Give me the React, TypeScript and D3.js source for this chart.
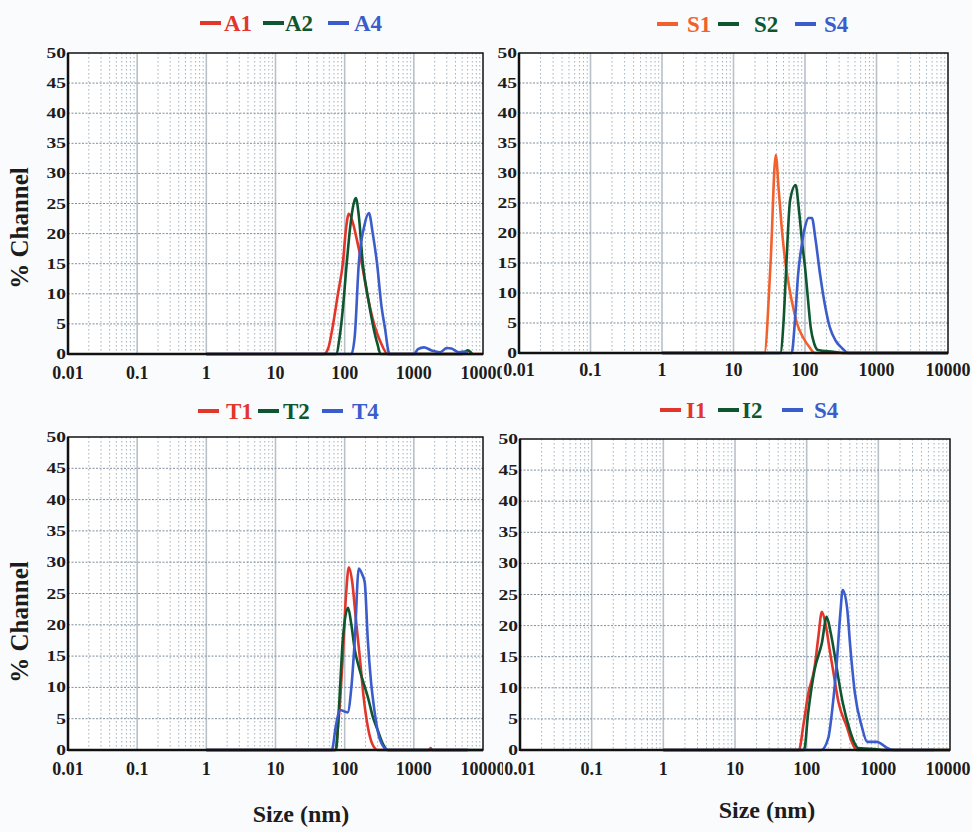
import React from "react";
import * as d3 from "d3";

// x ticks (size, nm) and y ticks (% channel)
const SIZE_TICKS = [0.01, 0.1, 1, 10, 100, 1000, 10000];
const SIZE_LABELS = ["0.01", "0.1", "1", "10", "100", "1000", "10000"];
const CHANNEL_TICKS = [0, 5, 10, 15, 20, 25, 30, 35, 40, 45, 50];

type Pt = [number, number]; // [size nm, % channel]

// panel A
const A1: Pt[] = [[1, 0], [50, 0], [58, 1], [67, 4.5], [80, 10], [94, 15], [105, 21], [115, 23.3], [130, 22], [150, 19], [177, 15], [220, 9], [274, 4.5], [330, 2], [420, 0], [10000, 0]];
const A2: Pt[] = [[1, 0], [75, 0], [85, 3], [95, 8], [107, 15], [120, 21], [135, 25], [145, 25.9], [160, 23], [183, 15], [220, 9], [265, 4], [300, 1.5], [330, 0], [5000, 0], [6000, 0.6], [7000, 0]];
const A4: Pt[] = [[1, 0], [125, 0], [140, 3], [160, 15], [190, 21], [224, 23.4], [255, 20], [294, 15], [340, 8], [380, 4.5], [445, 0], [1000, 0], [1150, 0.8], [1400, 1.1], [1800, 0.6], [2400, 0.3], [3000, 1.0], [3500, 0.9], [4500, 0.3], [5500, 0.4], [6000, 0]];

// panel S
const S1: Pt[] = [[1, 0], [27, 0], [33, 15], [39, 33], [43, 27], [48, 20], [52, 16], [60, 11], [70, 7], [77, 5], [95, 2.5], [115, 1], [138, 0], [10000, 0]];
const S2: Pt[] = [[1, 0], [45, 0], [50, 5], [54, 13], [62, 25.5], [74, 28], [82, 24], [92, 18], [100, 14.3], [110, 9], [120, 4.3], [135, 1.5], [152, 0.5], [250, 0.2], [340, 0], [10000, 0]];
const S4: Pt[] = [[1, 0], [65, 0], [72, 5], [80, 13], [90, 18], [100, 21], [112, 22.5], [125, 22.5], [140, 19], [163, 13], [190, 8], [222, 4.3], [270, 2], [330, 0.8], [400, 0], [10000, 0]];

// panel T
const T1: Pt[] = [[1, 0], [72, 0], [82, 5], [94, 15], [105, 25], [115, 29.2], [128, 27], [145, 21], [165, 15], [190, 8], [216, 3.7], [250, 1], [300, 0], [1650, 0], [1750, 0.3], [1850, 0], [6000, 0]];
const T2: Pt[] = [[1, 0], [75, 0], [82, 6], [94, 17.6], [112, 22.7], [125, 20], [140, 16], [160, 13.3], [190, 10.5], [216, 8.5], [260, 5], [300, 3.2], [350, 1.2], [420, 0], [10000, 0]];
const T4: Pt[] = [[1, 0], [65, 0], [75, 4], [85, 6.4], [110, 6], [125, 10], [140, 17.6], [160, 29], [180, 28], [195, 26.8], [216, 17.6], [240, 11], [265, 6.9], [325, 1.6], [420, 0], [6000, 0]];

// panel I
const I1: Pt[] = [[1, 0], [78, 0], [90, 4], [105, 9], [129, 13.3], [145, 18], [163, 22.2], [185, 20], [210, 16], [233, 12.9], [280, 7.5], [365, 3.7], [420, 1.5], [500, 0], [10000, 0]];
const I2: Pt[] = [[1, 0], [92, 0], [105, 6], [129, 12.9], [163, 17.2], [190, 21.4], [215, 19], [240, 16], [265, 12.9], [320, 7.5], [400, 3.2], [470, 1], [520, 0.3], [800, 0.2], [1150, 0], [10000, 0]];
const IS4: Pt[] = [[1, 0], [160, 0], [200, 1.9], [230, 7], [265, 14.5], [295, 22], [318, 25.7], [365, 23], [410, 16], [470, 9.2], [590, 3.7], [700, 1.3], [950, 1.3], [1100, 1.0], [1300, 0.4], [1600, 0], [6000, 0]];

const RED = "#e2362b";
const ORANGE = "#f2602e";
const GREEN = "#0f5630";
const BLUE = "#3b5ccb";

const SERIF = "'Liberation Serif', 'DejaVu Serif', serif";
const W = 972;
const H = 832;

interface Series { name: string; color: string; data: Pt[]; }
interface PanelCfg {
  series: Series[];
  left: number; right: number; top: number; bottom: number;
  labelY: number;
  legendY: number;
  dashX: number[];
  textX: number[];
  clipRight: number;
  yTitle?: number;
  xTitle?: [number, number];
}

const PANELS: PanelCfg[] = [
  {
    series: [{ name: "A1", color: RED, data: A1 }, { name: "A2", color: GREEN, data: A2 }, { name: "A4", color: BLUE, data: A4 }],
    left: 68, right: 483, top: 53, bottom: 354, labelY: 379, legendY: 31,
    dashX: [200, 263, 328], textX: [224, 285, 354], yTitle: 228, clipRight: 502,
  },
  {
    series: [{ name: "S1", color: ORANGE, data: S1 }, { name: "S2", color: GREEN, data: S2 }, { name: "S4", color: BLUE, data: S4 }],
    left: 519, right: 948, top: 53, bottom: 353, labelY: 376, legendY: 32,
    dashX: [657, 718, 795], textX: [687, 754, 824], clipRight: W,
  },
  {
    series: [{ name: "T1", color: RED, data: T1 }, { name: "T2", color: GREEN, data: T2 }, { name: "T4", color: BLUE, data: T4 }],
    left: 68, right: 483, top: 437, bottom: 750, labelY: 775, legendY: 419,
    dashX: [198, 258, 322], textX: [226, 283, 352], yTitle: 622, xTitle: [301, 822], clipRight: 503,
  },
  {
    series: [{ name: "I1", color: RED, data: I1 }, { name: "I2", color: GREEN, data: I2 }, { name: "S4", color: BLUE, data: IS4 }],
    left: 520, right: 950, top: 439, bottom: 750, labelY: 775, legendY: 418,
    dashX: [660, 718, 782], textX: [686, 742, 814], xTitle: [767, 818], clipRight: W,
  },
];

const MINOR: number[] = [];
for (let d = -2; d < 4; d++) for (let k = 2; k <= 9; k++) MINOR.push(k * Math.pow(10, d));

function Panel({ cfg, id }: { cfg: PanelCfg; id: string }) {
  const x = d3.scaleLog().domain([0.01, 10000]).range([cfg.left, cfg.right]);
  const y = d3.scaleLinear().domain([0, 50]).range([cfg.bottom, cfg.top]);
  const line = d3.line<Pt>().x((d) => x(d[0])).y((d) => y(d[1])).curve(d3.curveMonotoneX);

  return (
    <g>
      <clipPath id={id}>
        <rect x={0} y={0} width={cfg.clipRight} height={H} />
      </clipPath>
      <rect x={cfg.left} y={cfg.top} width={cfg.right - cfg.left} height={cfg.bottom - cfg.top} fill="#fff" />
      {/* minor verticals */}
      {MINOR.map((m) => (
        <line key={"m" + m} x1={x(m)} x2={x(m)} y1={cfg.top} y2={cfg.bottom} stroke="#9db2c4" strokeWidth={1} strokeDasharray="1.5,2.5" />
      ))}
      {/* major verticals */}
      {SIZE_TICKS.slice(1, -1).map((t) => (
        <line key={"M" + t} x1={x(t)} x2={x(t)} y1={cfg.top} y2={cfg.bottom} stroke="#b8c0c8" strokeWidth={1.6} />
      ))}
      {/* horizontals */}
      {CHANNEL_TICKS.slice(1, -1).map((t) => (
        <line key={"h" + t} x1={cfg.left} x2={cfg.right} y1={y(t)} y2={y(t)} stroke="#7f8e9c" strokeWidth={1} strokeDasharray="2,1.5" />
      ))}
      {/* series */}
      {cfg.series.map((s) => (
        <path key={s.name} d={line(s.data) || ""} fill="none" stroke={s.color} strokeWidth={2.6} strokeLinejoin="round" />
      ))}
      {/* frame */}
      <rect x={cfg.left} y={cfg.top} width={cfg.right - cfg.left} height={cfg.bottom - cfg.top} fill="none" stroke="#111" strokeWidth={1.5} />
      <line x1={cfg.left} x2={cfg.left} y1={cfg.top} y2={cfg.bottom + 1} stroke="#111" strokeWidth={2.5} />
      <line x1={cfg.left} x2={cfg.right} y1={cfg.bottom} y2={cfg.bottom} stroke="#111" strokeWidth={2.5} />
      {/* y tick labels */}
      {CHANNEL_TICKS.map((t) => (
        <text key={"yl" + t} transform={`translate(${cfg.left - 2},${y(t) + 5}) scale(1.3,1)`} textAnchor="end"
          fontFamily={SERIF} fontWeight="bold" fontSize={15} fill="#1c1c1c">{t}</text>
      ))}
      {/* x tick labels */}
      <g clipPath={`url(#${id})`}>
        {SIZE_TICKS.map((t, i) => (
          <text key={"xl" + t} x={Math.min(x(t), W - 24)} y={cfg.labelY} textAnchor="middle" fontFamily={SERIF} fontWeight="bold"
            fontSize={18} fill="#1c1c1c">{SIZE_LABELS[i]}</text>
        ))}
      </g>
      {/* legend */}
      {cfg.series.map((s, i) => (
        <g key={"lg" + s.name}>
          <rect x={cfg.dashX[i]} y={cfg.legendY - 10} width={21} height={4} fill={s.color} />
          <text x={cfg.textX[i]} y={cfg.legendY} fontFamily={SERIF} fontWeight="bold" fontSize={23} fill={s.color}>{s.name}</text>
        </g>
      ))}
      {cfg.yTitle !== undefined && (
        <text transform={`translate(28,${cfg.yTitle}) rotate(-90)`} textAnchor="middle" fontFamily={SERIF}
          fontWeight="bold" fontSize={25} fill="#1c1c1c">% Channel</text>
      )}
      {cfg.xTitle && (
        <text x={cfg.xTitle[0]} y={cfg.xTitle[1]} textAnchor="middle" fontFamily={SERIF} fontWeight="bold"
          fontSize={24} fill="#1c1c1c">Size (nm)</text>
      )}
    </g>
  );
}

export default function App() {
  return (
    <svg width={W} height={H} style={{ position: "absolute", left: 0, top: 0, display: "block", background: "#fafbfd" }}>
      {PANELS.map((p, i) => <Panel key={i} cfg={p} id={"clip" + i} />)}
    </svg>
  );
}
